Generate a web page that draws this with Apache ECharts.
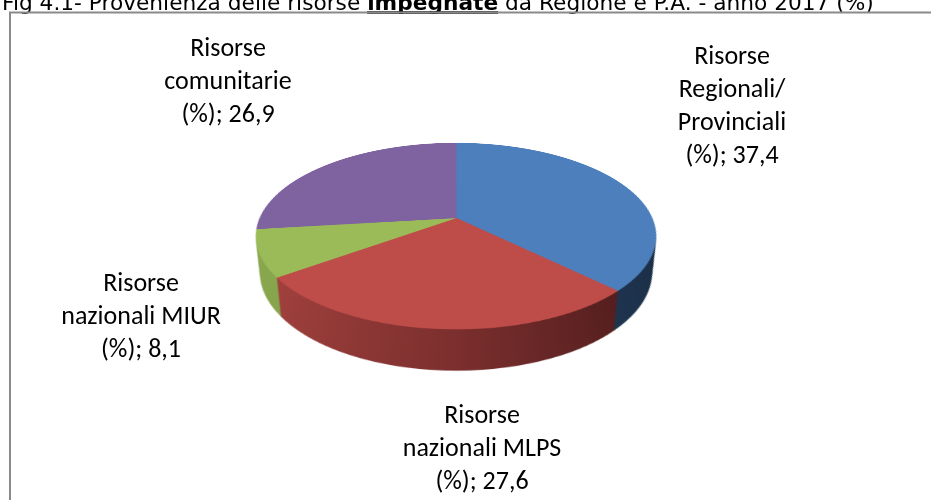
<!DOCTYPE html>
<html>
<head>
<meta charset="utf-8">
<script src="https://cdn.jsdelivr.net/npm/echarts@6/dist/echarts.min.js"></script>
<style>
html, body { margin: 0; padding: 0; background: #ffffff; overflow: hidden; width: 931px; height: 500px; }
#pie { position: absolute; left: 236px; top: -2px; width: 440px; height: 540px;
       transform-origin: 220px 220px; transform: perspective(900px) rotateX(62.8deg); z-index: 1; }
#overlay { position: absolute; left: 0; top: 0; width: 931px; height: 500px; z-index: 2; pointer-events: none; }
</style>
</head>
<body>
<div id="pie"></div>
<div id="overlay"></div>
<script>
// ---- data ----
const categories = [
  'Risorse\nRegionali/\nProvinciali\n(%)',
  'Risorse\nnazionali MLPS\n(%)',
  'Risorse\nnazionali MIUR\n(%)',
  'Risorse\ncomunitarie\n(%)'
];
const values = [37.4, 27.6, 8.1, 26.9];
const titleParts = ['Fig 4.1- Provenienza delle risorse ', 'impegnate', ' da Regione e P.A. - anno 2017 (%)'];

// ---- styles ----
const topColors = ['#4c7fbc', '#be4d4a', '#9bbb59', '#7f62a0'];
const sideStops = [
  ['#2e4a6e', '#25405f', '#1b2e46'],
  ['#aa4541', '#7b2f2e', '#441818'],
  ['#8aa94f', '#7b9843', '#627d32'],
  ['#6e558d', '#5a4575', '#40305a']
];

// ---- 3D pie built from stacked pie series (CSS perspective tilt) ----
const R = 196, P = 900, TH = 62.8 * Math.PI / 180, DEPTH = 41, CX = 220, CY = 220, STEP = 0.5;

function sideGrad(i) {
  const s = sideStops[i];
  return new echarts.graphic.LinearGradient(CX - R, 0, CX + R, 0,
    [{offset: 0, color: s[0]}, {offset: 0.5, color: s[1]}, {offset: 1, color: s[2]}], true);
}
function layer(radius, cy, colorFn) {
  return {
    type: 'pie', radius: [0, radius], center: [CX, cy], startAngle: 90, clockwise: true,
    silent: true, animation: false, label: {show: false}, labelLine: {show: false},
    emphasis: {disabled: true},
    data: values.map((v, i) => {
      const c = colorFn(i);
      return {name: categories[i], value: v, itemStyle: {color: c, borderColor: c, borderWidth: 0.8}};
    })
  };
}
const pieSeries = [];
for (let d = DEPTH; d > 0; d -= STEP) {
  const lam = P * Math.cos(TH) / (P * Math.cos(TH) + d);
  const sh = (1 - lam) * P * Math.sin(TH);
  pieSeries.push(layer(lam * R, CY + sh, sideGrad));
}
pieSeries.push(layer(R, CY, i => topColors[i]));

const pieChart = echarts.init(document.getElementById('pie'), null, {renderer: 'canvas', devicePixelRatio: 2});
pieChart.setOption({animation: false, series: pieSeries});

// ---- overlay: title, frame, labels ----
const TITLE_FONT = '"DejaVu Sans", Tahoma, Verdana, sans-serif';
const TITLE_SIZE = 21.7;
const mctx = document.createElement('canvas').getContext('2d');
function tw(text, bold) {
  mctx.font = (bold ? 'bold ' : '') + TITLE_SIZE + 'px ' + TITLE_FONT;
  return mctx.measureText(text).width;
}
const tx0 = 2, tyMid = 4.5;
const w0 = tw(titleParts[0], false), w1 = tw(titleParts[1], true);
const titleGraphics = [
  {type: 'text', x: tx0, y: tyMid, style: {text: titleParts[0], font: TITLE_SIZE + 'px ' + TITLE_FONT, fill: '#000', verticalAlign: 'middle', align: 'left'}},
  {type: 'text', x: tx0 + w0, y: tyMid, style: {text: titleParts[1], font: 'bold ' + TITLE_SIZE + 'px ' + TITLE_FONT, fill: '#000', verticalAlign: 'middle', align: 'left'}},
  {type: 'text', x: tx0 + w0 + w1, y: tyMid, style: {text: titleParts[2], font: TITLE_SIZE + 'px ' + TITLE_FONT, fill: '#000', verticalAlign: 'middle', align: 'left'}},
  {type: 'rect', shape: {x: tx0 + w0, y: 11.2, width: w1, height: 2.5}, style: {fill: '#000'}},
  {type: 'rect', shape: {x: 10, y: 12.5, width: 1000, height: 600}, style: {fill: 'none', stroke: '#8a8a8a', lineWidth: 2}}
];

const LABEL_POS = [[732, 107], [482, 449], [141, 317], [228, 82]];
const fmt = v => v.toFixed(1).replace('.', ',');

const overlay = echarts.init(document.getElementById('overlay'), null, {renderer: 'canvas'});
overlay.setOption({
  animation: false,
  graphic: titleGraphics,
  series: [{
    type: 'pie', radius: [0, 10], center: [456, 240], startAngle: 90, clockwise: true,
    silent: true, itemStyle: {color: 'rgba(0,0,0,0)'},
    label: {
      show: true, position: 'outside', color: '#000',
      fontFamily: 'Carlito, Calibri, Lato, sans-serif', fontSize: 26, lineHeight: 33,
      align: 'center',
      formatter: p => categories[p.dataIndex] + '; ' + fmt(values[p.dataIndex])
    },
    labelLine: {show: false},
    labelLayout: p => ({x: LABEL_POS[p.dataIndex][0], y: LABEL_POS[p.dataIndex][1], align: 'center', verticalAlign: 'middle'}),
    data: values.map((v, i) => ({name: categories[i], value: v}))
  }]
});
</script>
</body>
</html>
